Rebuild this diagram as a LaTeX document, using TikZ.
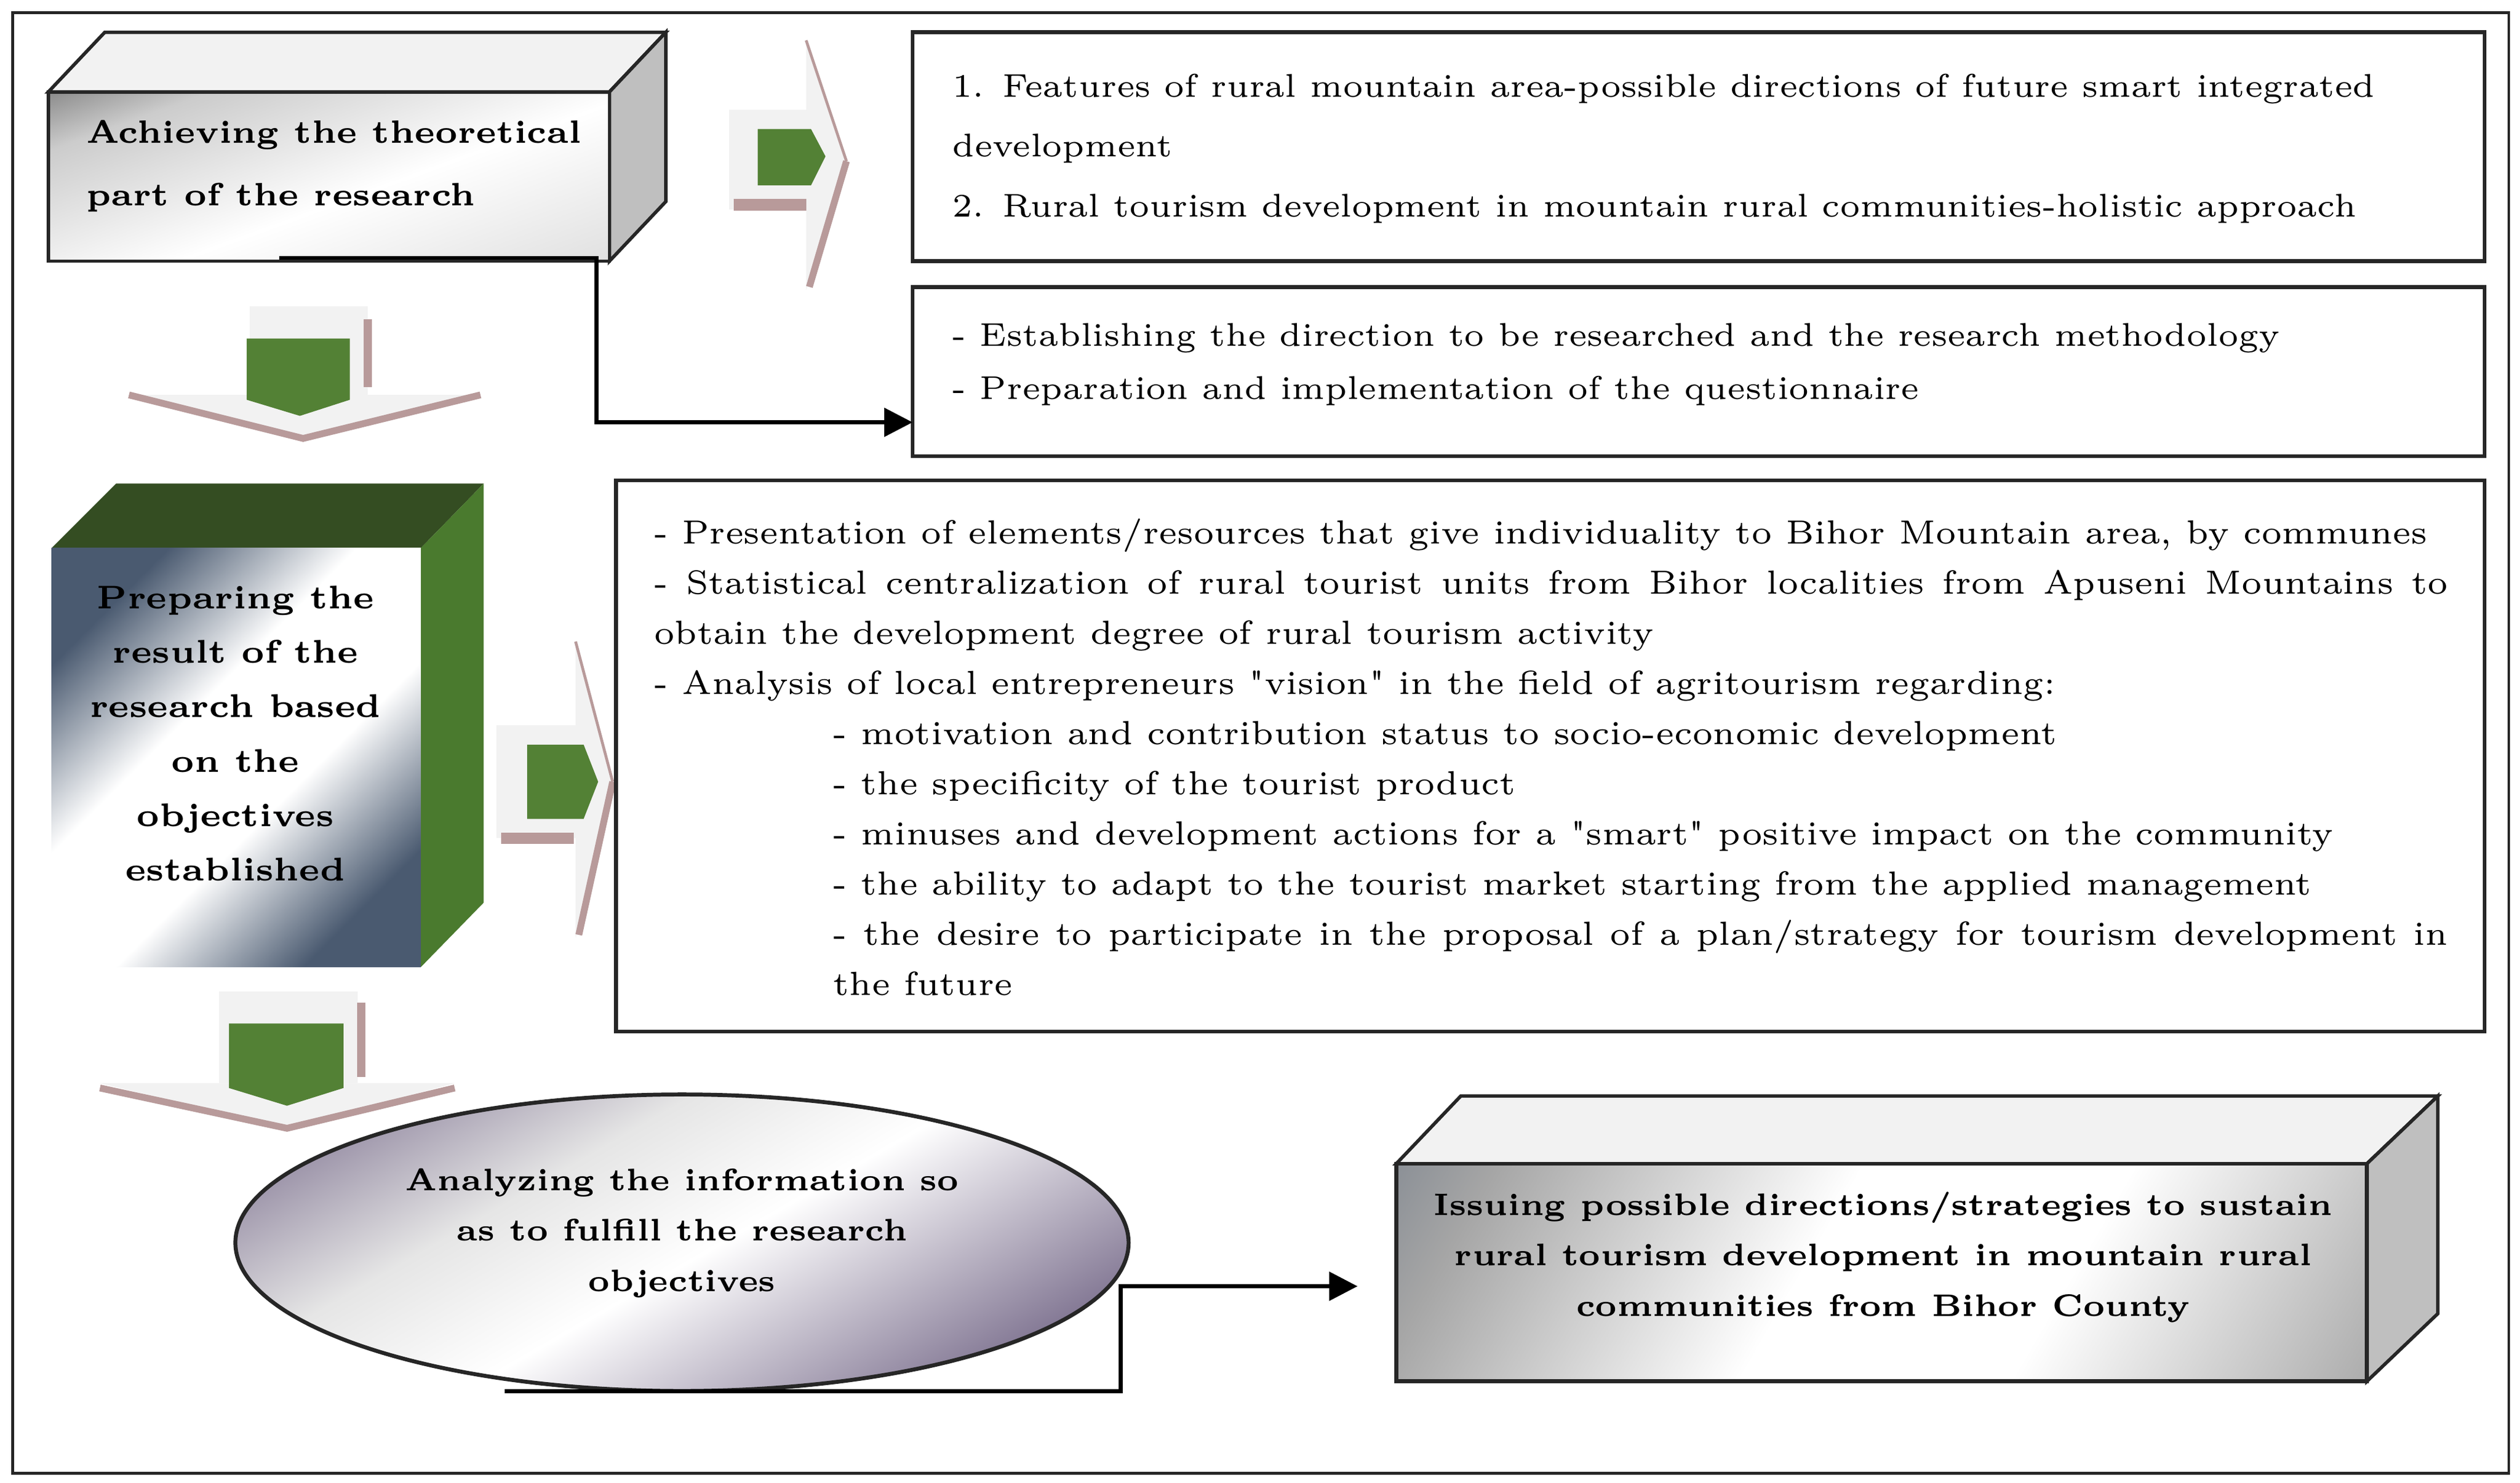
\documentclass[tikz,border=0pt]{standalone}
\usepackage{xcolor}
\usetikzlibrary{arrows.meta}
\definecolor{gA}{HTML}{538135}
\definecolor{gDark}{HTML}{344D22}
\definecolor{gMid}{HTML}{4A7A2E}
\definecolor{slate}{HTML}{4A5A70}
\definecolor{pinkl}{HTML}{B89A9A}
\definecolor{chev}{HTML}{F2F2F2}
\definecolor{purp}{HTML}{857A96}
\pgfdeclarehorizontalshading{shA}{100bp}{color(0bp)=(black!20); color(45bp)=(white); color(72bp)=(black!20); color(100bp)=(black!90)}
\pgfdeclarehorizontalshading{shB}{100bp}{color(0bp)=(slate); color(25bp)=(slate); color(42bp)=(white); color(58bp)=(white); color(75bp)=(slate); color(100bp)=(slate)}
\pgfdeclarehorizontalshading{shC}{100bp}{color(0bp)=(black!55); color(38bp)=(white); color(55bp)=(white); color(78bp)=(black!35); color(100bp)=(slate)}
\pgfdeclarehorizontalshading{shE}{100bp}{color(0bp)=(purp); color(25bp)=(purp); color(48bp)=(white); color(62bp)=(black!10); color(80bp)=(purp); color(100bp)=(purp)}
\tikzset{
  frame/.style={draw=black!85, line width=0.5pt},
  plain/.style={draw=black!85, line width=0.7pt, fill=white},
  txt/.style={font=\fontsize{5.8}{10.6}\selectfont, align=left, anchor=north west, inner sep=0pt},
  btxt/.style={font=\fontsize{5.5}{8.9}\selectfont\bfseries, align=center, inner sep=0pt},
  conn/.style={draw=black, line width=0.7pt},
  tip/.style={-{Triangle[length=5pt,width=5pt]}},
}
\begin{document}
\begin{tikzpicture}[x=0.01cm,y=-0.01cm]
\useasboundingbox (0,0) rectangle (1563,920);
\fill[white] (0,0) rectangle (1563,920);
\draw[frame] (8,8) rectangle (1556,914);

% ---- Box A (3D gray)
\fill[black!5,draw=black!85,line width=0.6pt] (30,57) -- (65,20) -- (413,20) -- (378,57) -- cycle;
\fill[black!25,draw=black!85,line width=0.6pt] (378,57) -- (413,20) -- (413,125) -- (378,162) -- cycle;
\shade[shading=shA,shading angle=110] (30,57) rectangle (378,162);
\draw[black!85,line width=0.6pt] (30,57) rectangle (378,162);
\node[btxt,align=left,anchor=north west,font=\fontsize{5.7}{11}\selectfont\bfseries] (A) at (53,74) {Achieving the theoretical\\part of the research};
\coordinate (Abot) at (173,160);

% ---- right chevron 1
\fill[chev] (452,68) rectangle (500,130);
\fill[chev] (500,25) -- (525,100) -- (500,180) -- cycle;
\draw[pinkl,line width=1.2pt] (525,100) -- (502,178);
\draw[pinkl,line width=0.5pt] (500,25) -- (525,100);
\draw[pinkl,line width=2pt] (455,127) -- (500,127);
\fill[gA] (470,80) -- (503,80) -- (512,97) -- (503,115) -- (470,115) -- cycle;

% ---- Box 1
\draw[plain] (566,20) rectangle (1541,162);
\node[txt] (B1) at (590,45) {1. Features of rural mountain area-possible directions of future smart integrated\\development\\2. Rural tourism development in mountain rural communities-holistic approach};

% ---- Box 2
\draw[plain] (566,178) rectangle (1541,283);
\coordinate (B2w) at (566,262);
\node[txt,font=\fontsize{5.8}{9.3}\selectfont] (B2) at (590,200) {- Establishing the direction to be researched and the research methodology\\- Preparation and implementation of the questionnaire};

\draw[conn,tip] (Abot) -- (370,160) -- (370,262) -- (B2w);

% ---- down chevron 1
\fill[chev] (155,190) rectangle (228,245);
\fill[chev] (80,245) -- (298,245) -- (188,272) -- cycle;
\draw[pinkl,line width=1.2pt] (80,245) -- (188,272) -- (298,245);
\draw[pinkl,line width=1.5pt] (228,198) -- (228,240);
\fill[gA] (153,210) -- (217,210) -- (217,248) -- (186,258) -- (153,248) -- cycle;

% ---- Box B (3D green)
\fill[gDark] (32,340) -- (72,300) -- (300,300) -- (261,340) -- cycle;
\fill[gMid] (261,340) -- (300,300) -- (300,560) -- (261,600) -- cycle;
\shade[shading=shB,shading angle=135] (32,340) rectangle (261,600);
\node[btxt,font=\fontsize{5.8}{9.6}\selectfont\bfseries] (B) at (146,455) {Preparing the\\result of the\\research based\\on the\\objectives\\established};

% ---- right chevron 2
\fill[chev] (308,450) rectangle (357,520);
\fill[chev] (357,398) -- (380,485) -- (357,582) -- cycle;
\draw[pinkl,line width=1.2pt] (380,485) -- (359,580);
\draw[pinkl,line width=0.5pt] (357,398) -- (380,485);
\draw[pinkl,line width=2pt] (311,520) -- (356,520);
\fill[gA] (327,462) -- (362,462) -- (371,485) -- (362,508) -- (327,508) -- cycle;

% ---- Box 3
\draw[plain] (382,298) rectangle (1541,640);
\node[txt,text width=11.12cm,align=justify,font=\fontsize{5.9}{8.85}\selectfont] (B3) at (405,321) {\parindent=0pt
- Presentation of elements/resources that give individuality to Bihor Mountain area, by communes\par
- Statistical centralization of rural tourist units from Bihor localities from Apuseni Mountains to\linebreak obtain the development degree of rural tourism activity\par
- Analysis of local entrepreneurs \textquotedbl vision\textquotedbl\ in the field of agritourism regarding:\par
{\leftskip=1.11cm
- motivation and contribution status to socio-economic development\par
- the specificity of the tourist product\par
- minuses and development actions for a \textquotedbl smart\textquotedbl\ positive impact on the community\par
- the ability to adapt to the tourist market starting from the applied management\par
- the desire to participate in the proposal of a plan/strategy for tourism development in\linebreak the future\par}};

% ---- down chevron 2
\fill[chev] (136,615) rectangle (222,672);
\fill[chev] (62,672) -- (282,672) -- (178,700) -- cycle;
\draw[pinkl,line width=1.2pt] (62,675) -- (178,700) -- (282,675);
\draw[pinkl,line width=1.5pt] (224,622) -- (224,668);
\fill[gA] (142,635) -- (213,635) -- (213,675) -- (178,686) -- (142,675) -- cycle;

% ---- Ellipse
\shade[shading=shE,shading angle=120] (423,771) ellipse [x radius=277,y radius=92];
\draw[black!85,line width=0.7pt] (423,771) ellipse [x radius=277,y radius=92];
\node[btxt] (E) at (423,765) {Analyzing the information so\\as to fulfill the research\\objectives};
\coordinate (Ebot) at (313,863);

% ---- Box C (3D gray)
\fill[black!5,draw=black!85,line width=0.6pt] (866,722) -- (906,680) -- (1512,680) -- (1468,722) -- cycle;
\fill[black!25,draw=black!85,line width=0.6pt] (1468,722) -- (1512,680) -- (1512,815) -- (1468,857) -- cycle;
\shade[shading=shC,shading angle=150] (866,722) rectangle (1468,857);
\draw[black!85,line width=0.7pt] (866,722) rectangle (1468,857);
\node[btxt] (C) at (1168,780) {Issuing possible directions/strategies to sustain\\rural tourism development in mountain rural\\communities from Bihor County};
\coordinate (Cw) at (842,798);

\draw[conn,tip] (Ebot) -- (695,863) -- (695,798) -- (Cw);
\end{tikzpicture}
\end{document}
